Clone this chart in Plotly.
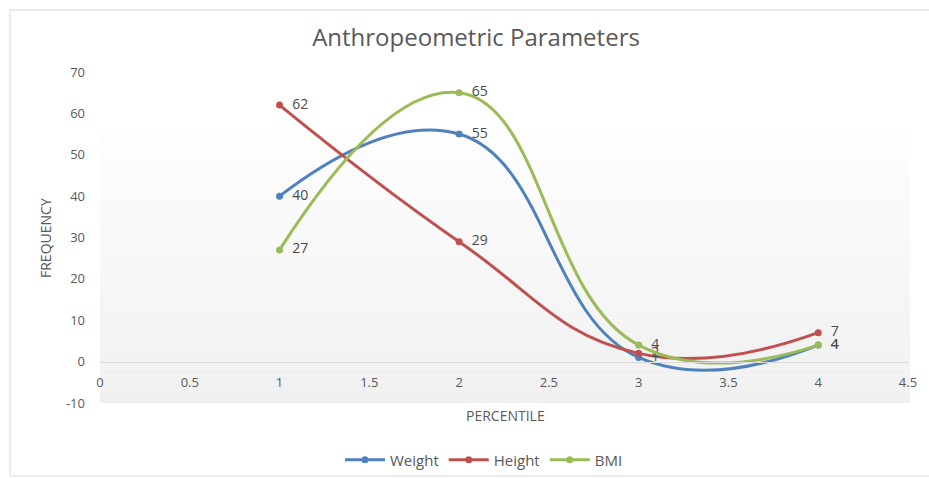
import plotly.graph_objects as go

percentile = [1, 2, 3, 4]
weight = [40, 55, 1, 4]
height = [62, 29, 2, 7]
bmi = [27, 65, 4, 4]
series_names = ["Weight", "Height", "BMI"]
colors = ["#4F81BD", "#C0504D", "#9BBB59"]
x_ticks = [0, 0.5, 1, 1.5, 2, 2.5, 3, 3.5, 4, 4.5]
x_tick_text = ["0", "0.5", "1", "1.5", "2", "2.5", "3", "3.5", "4", "4.5"]
y_ticks = [-10, 0, 10, 20, 30, 40, 50, 60, 70]
y_tick_text = ["-10", "0", "10", "20", "30", "40", "50", "60", "70"]

W, H = 929, 478
L, R, T, B = 100, 21, 72, 75
pw, ph = W - L - R, H - T - B

def px(x):
    return (x - L) / pw

def py(y):
    return (H - B - y) / ph

FONT = "Open Sans"
fig = go.Figure()
for name, vals, col in zip(series_names, [weight, height, bmi], colors):
    fig.add_trace(go.Scatter(
        x=percentile, y=vals, name=name, mode="lines+markers+text",
        line=dict(color=col, width=3, shape="spline", smoothing=1.3),
        marker=dict(color=col, size=7),
        text=["  " + str(v) for v in vals], textposition="middle right",
        textfont=dict(color="#4a4a4a", size=14, family=FONT),
        cliponaxis=False,
    ))

shapes = []
n = 40
ytop, ybot = 56.5, -10
for i in range(n):
    y0 = ytop - (ytop - ybot) * i / n
    y1 = ytop - (ytop - ybot) * (i + 1) / n
    t = (i + 0.5) / n
    c = int(round(254 - (254 - 240) * t))
    shapes.append(dict(type="rect", xref="paper", yref="y", x0=0, x1=px(910),
                       y0=y1, y1=y0, fillcolor=f"rgb({c},{c},{c})",
                       line=dict(width=0), layer="below"))
shapes.append(dict(type="rect", xref="paper", yref="paper",
                   x0=px(10), x1=px(940), y0=py(476), y1=py(10),
                   line=dict(color="#d9d9d9", width=1), fillcolor="rgba(0,0,0,0)",
                   layer="below"))

fig.update_layout(
    width=W, height=H, margin=dict(l=L, r=R, t=T, b=B, autoexpand=False),
    paper_bgcolor="white", plot_bgcolor="rgba(0,0,0,0)",
    font=dict(family=FONT, color="#595959", size=13),
    title=dict(text="Anthropeometric Parameters", x=476 / W, xanchor="center",
               y=1 - 38 / H, yanchor="middle", yref="container",
               font=dict(size=24, color="#595959", family=FONT)),
    xaxis=dict(range=[0, 4.5], tickvals=x_ticks, ticktext=x_tick_text,
               showgrid=False, zeroline=False,
               showline=True, linecolor="#d9d9d9", linewidth=1,
               anchor="free", position=10 / 80, ticks="",
               tickfont=dict(size=13, color="#595959"), ticklabelstandoff=9),
    yaxis=dict(range=[-10, 70], tickvals=y_ticks, ticktext=y_tick_text,
               showgrid=False, zeroline=False,
               showline=False, ticks="", tickfont=dict(size=13, color="#595959"),
               ticklabelstandoff=14),
    shapes=shapes,
    showlegend=True,
    legend=dict(orientation="h", x=px(484), xanchor="center", y=py(460),
                yanchor="middle", font=dict(size=15, color="#595959"),
                bgcolor="rgba(0,0,0,0)",
                itemwidth=40, traceorder="normal"),
    annotations=[
        dict(text="FREQUENCY", xref="paper", yref="paper", x=px(45), y=py(238),
             xanchor="center", yanchor="middle",
             textangle=-90, showarrow=False, font=dict(size=14, color="#595959")),
        dict(text="PERCENTILE", xref="paper", yref="paper", x=px(505), y=py(415),
             xanchor="center", yanchor="middle",
             showarrow=False, font=dict(size=14, color="#595959")),
    ],
)
fig.write_html("out.html")
